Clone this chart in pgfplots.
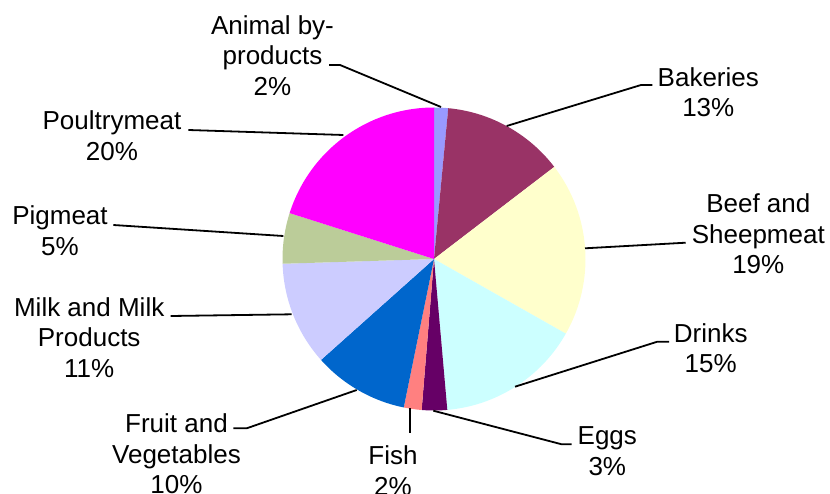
\documentclass[border=0pt]{standalone}
\usepackage{fontspec}
\setmainfont{Liberation Sans}
\usepackage{pgfplots}
\pgfplotsset{compat=1.18}
\definecolor{cAnimal}{HTML}{9999FF}
\definecolor{cBakeries}{HTML}{993366}
\definecolor{cBeef}{HTML}{FFFFCC}
\definecolor{cDrinks}{HTML}{CCFFFF}
\definecolor{cEggs}{HTML}{660066}
\definecolor{cFish}{HTML}{FF8080}
\definecolor{cFruit}{HTML}{0066CC}
\definecolor{cMilk}{HTML}{CCCCFF}
\definecolor{cPig}{HTML}{BBCC99}
\definecolor{cPoultry}{HTML}{FF00FF}
\newcommand{\lf}{\fontsize{26bp}{30.5bp}\selectfont}
% slice: color, cumulative start %, cumulative end %
\newcommand{\pieslice}[3]{%
  \fill[#1] (axis cs:434,234) -- ++({90-3.6*#2}:151.5bp)
    arc[start angle={90-3.6*#2}, end angle={90-3.6*#3}, radius=151.5bp] -- cycle;}
\begin{document}
\begin{tikzpicture}
\begin{axis}[width=830bp,height=493bp,scale only axis,
  xmin=0,xmax=830,ymin=0,ymax=493,hide axis,clip=false]
\coordinate (BL) at (axis cs:0,0);
\coordinate (TR) at (axis cs:830,493);
% shares (%): Animal by-products 1.5, Bakeries 13.1, Beef and Sheepmeat 18.6,
% Drinks 15.4, Eggs 2.7, Fish 1.9, Fruit and Vegetables 10.2,
% Milk and Milk Products 11.1, Pigmeat 5.4, Poultrymeat 20.1
\pieslice{cAnimal}{0}{1.5}
\pieslice{cBakeries}{1.5}{14.6}
\pieslice{cBeef}{14.6}{33.2}
\pieslice{cDrinks}{33.2}{48.6}
\pieslice{cEggs}{48.6}{51.3}
\pieslice{cFish}{51.3}{53.2}
\pieslice{cFruit}{53.2}{63.4}
\pieslice{cMilk}{63.4}{74.5}
\pieslice{cPig}{74.5}{79.9}
\pieslice{cPoultry}{79.9}{100}
% leader lines
\begin{scope}[line width=1.8bp,black]
\draw (axis cs:329,428) -- (axis cs:340,428) -- (axis cs:441,386);
\draw (axis cs:506.7,367) -- (axis cs:641,408) -- (axis cs:652.3,408);
\draw (axis cs:585,244.7) -- (axis cs:685.7,250.3);
\draw (axis cs:515,106.3) -- (axis cs:657.3,151.3) -- (axis cs:669,151.3);
\draw (axis cs:433.3,82.3) -- (axis cs:561.7,48.7) -- (axis cs:571.7,48.7);
\draw (axis cs:410,85) -- (axis cs:410,60);
\draw (axis cs:356.7,103) -- (axis cs:246.7,64.7) -- (axis cs:233.3,64.7);
\draw (axis cs:291.7,178.7) -- (axis cs:170.7,177);
\draw (axis cs:283.3,257) -- (axis cs:113.3,268);
\draw (axis cs:343.3,358) -- (axis cs:188.3,363);
\end{scope}
% labels
\begin{scope}[every node/.style={align=center,font=\lf,inner sep=0pt}]
\node at (axis cs:272.5,437.5) {Animal by-\\products\\2\%};
\node at (axis cs:708.3,401) {Bakeries\\13\%};
\node at (axis cs:758.3,259.2) {Beef and\\Sheepmeat\\19\%};
\node at (axis cs:710.7,144.7) {Drinks\\15\%};
\node at (axis cs:607.3,41.7) {Eggs\\3\%};
\node at (axis cs:393,22.5) {Fish\\2\%};
\node at (axis cs:176.5,39.2) {Fruit and\\Vegetables\\10\%};
\node at (axis cs:89.2,155.8) {Milk and Milk\\Products\\11\%};
\node at (axis cs:60,262.5) {Pigmeat\\5\%};
\node at (axis cs:112,357.5) {Poultrymeat\\20\%};
\end{scope}
\end{axis}
\pgfresetboundingbox
\path[use as bounding box] (BL) rectangle (TR);
\end{tikzpicture}
\end{document}
